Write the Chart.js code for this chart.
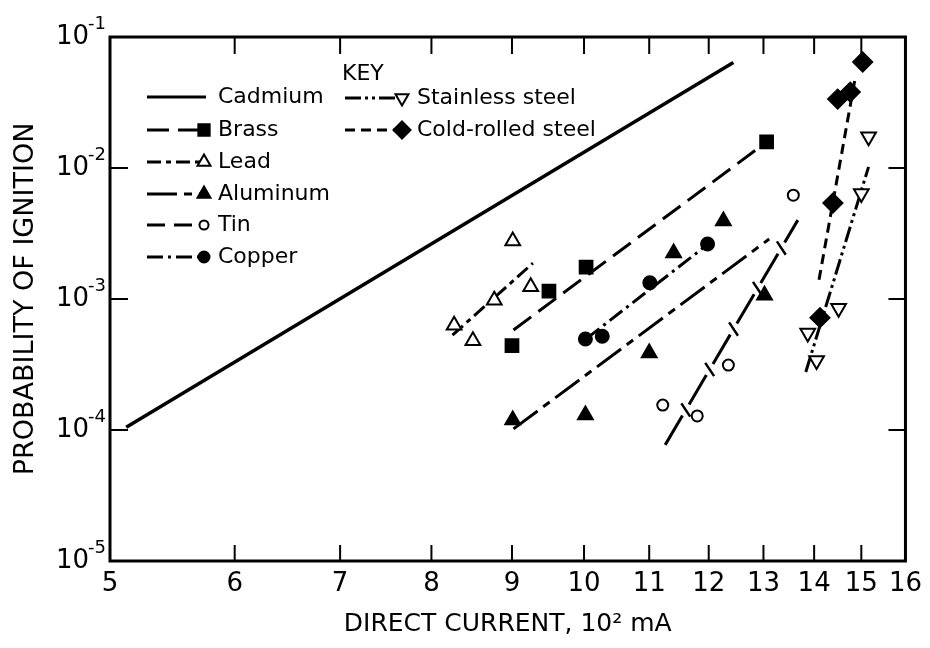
<!DOCTYPE html>
<html><head><meta charset="utf-8">
<script src="https://cdn.jsdelivr.net/npm/chart.js@4.4.1/dist/chart.umd.min.js"></script>
<style>html,body{margin:0;padding:0;background:#fff}#wrap{width:930px;height:648px}</style>
</head><body><div id="wrap"><canvas id="c" width="930" height="648"></canvas></div>
<script>
// ---------- data ----------
const xTickValues = [5, 6, 7, 8, 9, 10, 11, 12, 13, 14, 15, 16];
const yTickValues = [1e-1, 1e-2, 1e-3, 1e-4, 1e-5];
const yTickExponents = ['-1', '-2', '-3', '-4', '-5'];
const yInnerTickValues = [1e-2, 1e-3, 1e-4];

const cadmiumLineX = [5.12, 12.44];
const cadmiumLineY = [1.05e-4, 6.4e-2];

const brassX = [9.0, 9.5, 10.03, 13.06];
const brassY = [4.4e-4, 1.15e-3, 1.75e-3, 1.58e-2];
const brassLineX = [9.02, 13.06];
const brassLineY = [5.8e-4, 1.58e-2];

const leadX = [8.27, 8.5, 8.77, 9.01, 9.25];
const leadY = [6.3e-4, 4.8e-4, 9.8e-4, 2.77e-3, 1.24e-3];
const leadLineX = [8.25, 9.28];
const leadLineY = [5.3e-4, 1.88e-3];

const aluminumX = [9.01, 10.02, 11.0, 11.4, 12.26, 13.02];
const aluminumY = [1.19e-4, 1.3e-4, 3.87e-4, 2.24e-3, 3.94e-3, 1.07e-3];
const aluminumLineX = [9.02, 13.11];
const aluminumLineY = [1.02e-4, 2.87e-3];

const tinX = [11.22, 11.8, 12.35, 13.58];
const tinY = [1.55e-4, 1.28e-4, 3.13e-4, 6.2e-3];
const tinLineX = [11.26, 13.67];
const tinLineY = [7.7e-5, 4.0e-3];

const copperX = [10.02, 10.27, 11.01, 11.98];
const copperY = [4.95e-4, 5.2e-4, 1.33e-3, 2.63e-3];
const copperLineX = [10.04, 12.01];
const copperLineY = [5.0e-4, 2.67e-3];

const stainlessX = [15.16, 15.0, 14.51, 13.87, 14.05];
const stainlessY = [1.73e-2, 6.4e-3, 8.5e-4, 5.5e-4, 3.4e-4];
const stainlessLineX = [13.83, 15.16];
const stainlessLineY = [2.77e-4, 1.02e-2];

const coldX = [15.03, 14.76, 14.49, 14.39, 14.12];
const coldY = [6.44e-2, 3.8e-2, 3.36e-2, 5.4e-3, 7.2e-4];
const coldLineX = [14.10, 14.87];
const coldLineY = [1.4e-3, 4.95e-2];

const seriesNames = ['Cadmium', 'Brass', 'Lead', 'Aluminum', 'Tin', 'Copper', 'Stainless steel', 'Cold-rolled steel'];
const xTitle = 'DIRECT CURRENT, 10\u00B2 mA';
const yTitle = 'PROBABILITY OF IGNITION';
const keyTitle = 'KEY';

// ---------- styles ----------
const FONT = '"DejaVu Sans", "Liberation Sans", sans-serif';
const styles = {
  'Cadmium':          {dash: [], width: 3.5, marker: null},
  'Brass':            {dash: [22, 9], width: 3, marker: {pointStyle: 'rect', radius: 9, rotation: 0, fill: '#000'}},
  'Lead':             {dash: [14, 5, 5, 5], width: 3, marker: {pointStyle: 'triangle', radius: 8.5, rotation: 0, fill: '#fff'}},
  'Aluminum':         {dash: [30, 7, 8, 7], width: 3, marker: {pointStyle: 'triangle', radius: 8.5, rotation: 0, fill: '#000'}},
  'Tin':              {dash: [34, 13], width: 3, marker: {pointStyle: 'circle', radius: 5.5, rotation: 0, fill: '#fff'}, slashes: true},
  'Copper':           {dash: [16, 5, 3, 5], width: 3, marker: {pointStyle: 'circle', radius: 6.5, rotation: 0, fill: '#000'}},
  'Stainless steel':  {dash: [16, 4, 3, 4, 3, 4], width: 3, marker: {pointStyle: 'triangle', radius: 8.5, rotation: 180, fill: '#fff'}},
  'Cold-rolled steel':{dash: [10, 6], width: 3, marker: {pointStyle: 'rectRot', radius: 9.5, rotation: 0, fill: '#000'}}
};
const legendDash = {'Tin': [18, 9]};

function pts(xs, ys) { return xs.map((x, i) => ({x: x, y: ys[i]})); }

const pointSets = {
  'Brass': [brassX, brassY], 'Lead': [leadX, leadY], 'Aluminum': [aluminumX, aluminumY],
  'Tin': [tinX, tinY], 'Copper': [copperX, copperY], 'Stainless steel': [stainlessX, stainlessY],
  'Cold-rolled steel': [coldX, coldY]
};
const lineSets = {
  'Cadmium': [cadmiumLineX, cadmiumLineY], 'Brass': [brassLineX, brassLineY], 'Lead': [leadLineX, leadLineY],
  'Aluminum': [aluminumLineX, aluminumLineY], 'Tin': [tinLineX, tinLineY], 'Copper': [copperLineX, copperLineY],
  'Stainless steel': [stainlessLineX, stainlessLineY], 'Cold-rolled steel': [coldLineX, coldLineY]
};

const datasets = [];
seriesNames.forEach(name => {
  const st = styles[name];
  if (pointSets[name]) {
    const m = st.marker;
    datasets.push({
      label: name, data: pts(pointSets[name][0], pointSets[name][1]), showLine: false,
      pointStyle: m.pointStyle, pointRadius: m.radius, pointHoverRadius: m.radius, pointRotation: m.rotation,
      pointBackgroundColor: m.fill, pointBorderColor: '#000', pointBorderWidth: 2, order: 0
    });
  }
  datasets.push({
    label: name + ' fit', data: pts(lineSets[name][0], lineSets[name][1]), showLine: true,
    borderColor: '#000', borderWidth: st.width, borderDash: st.dash, pointRadius: 0, pointHoverRadius: 0,
    fill: false, tension: 0, order: 1
  });
});

// ---------- plugins ----------
const framePlugin = {
  id: 'frame',
  afterDatasetsDraw(chart) {
    const ctx = chart.ctx, a = chart.chartArea;
    const xs = chart.scales.x, ys = chart.scales.y;
    ctx.save();
    // slash marks across the gaps of the tin line (drawn from the fit line's scale positions)
    seriesNames.forEach(name => {
      const st = styles[name];
      if (!st.slashes) return;
      const L = lineSets[name];
      const x1 = xs.getPixelForValue(L[0][0]), y1 = ys.getPixelForValue(L[1][0]);
      const x2 = xs.getPixelForValue(L[0][1]), y2 = ys.getPixelForValue(L[1][1]);
      const len = Math.hypot(x2 - x1, y2 - y1);
      const ux = (x2 - x1) / len, uy = (y2 - y1) / len;
      const period = st.dash[0] + st.dash[1];
      ctx.strokeStyle = '#000';
      ctx.lineWidth = 2.5;
      ctx.beginPath();
      for (let d = st.dash[0] + st.dash[1] / 2; d < len; d += period) {
        const cx = x1 + ux * d, cy = y1 + uy * d;
        const ang = Math.atan2(uy, ux) + Math.PI / 2 + 0.45;
        const h = 8;
        ctx.moveTo(cx - Math.cos(ang) * h, cy - Math.sin(ang) * h);
        ctx.lineTo(cx + Math.cos(ang) * h, cy + Math.sin(ang) * h);
      }
      ctx.stroke();
    });
    ctx.strokeStyle = '#000';
    ctx.lineWidth = 3;
    ctx.lineCap = 'square';
    ctx.strokeRect(a.left, a.top, a.right - a.left, a.bottom - a.top);
    ctx.lineWidth = 2;
    ctx.lineCap = 'butt';
    ctx.beginPath();
    xTickValues.slice(1, -1).forEach(v => {
      const px = xs.getPixelForValue(v);
      ctx.moveTo(px, a.bottom); ctx.lineTo(px, a.bottom - 16);
      ctx.moveTo(px, a.top); ctx.lineTo(px, a.top + 17);
    });
    yInnerTickValues.forEach(v => {
      const py = ys.getPixelForValue(v);
      ctx.moveTo(a.left, py); ctx.lineTo(a.left + 18, py);
      ctx.moveTo(a.right, py); ctx.lineTo(a.right - 17, py);
    });
    ctx.stroke();
    // y tick labels: 10 with raised exponent
    ctx.fillStyle = '#000';
    ctx.textBaseline = 'middle';
    yTickValues.forEach((v, i) => {
      const py = ys.getPixelForValue(v);
      ctx.font = '26px ' + FONT;
      ctx.textAlign = 'right';
      ctx.fillText('10', 89, py);
      ctx.font = '18px ' + FONT;
      ctx.textAlign = 'left';
      ctx.fillText(yTickExponents[i], 88, py - 13);
    });
    ctx.restore();
  }
};

const keyPlugin = {
  id: 'key',
  afterDraw(chart) {
    const ctx = chart.ctx;
    ctx.save();
    ctx.fillStyle = '#000';
    ctx.font = '22px ' + FONT;
    ctx.textBaseline = 'middle';
    ctx.textAlign = 'left';
    ctx.fillText(keyTitle, 342, 74);
    const col1 = {x0: 147, mx: 204, tx: 218};
    const col2 = {x0: 345, mx: 402, tx: 417};
    const rows1 = [97, 130, 162, 194, 225, 257];
    const rows2 = [98, 130];
    seriesNames.forEach((name, i) => {
      const col = i < 6 ? col1 : col2;
      const y = i < 6 ? rows1[i] : rows2[i - 6];
      const st = styles[name];
      ctx.strokeStyle = '#000';
      ctx.lineWidth = 3;
      ctx.setLineDash(legendDash[name] || st.dash);
      ctx.beginPath();
      ctx.moveTo(col.x0, y);
      ctx.lineTo(st.marker ? col.mx : col.mx + 2, y);
      ctx.stroke();
      ctx.setLineDash([]);
      if (st.marker) {
        const m = st.marker;
        ctx.fillStyle = m.fill;
        ctx.lineWidth = 2;
        Chart.helpers.drawPoint(ctx, {pointStyle: m.pointStyle, radius: m.radius - 1, rotation: m.rotation, borderWidth: 2}, col.mx, y);
      }
      ctx.fillStyle = '#000';
      ctx.font = '22px ' + FONT;
      ctx.fillText(name, col.tx, y);
    });
    ctx.restore();
  }
};

new Chart(document.getElementById('c'), {
  type: 'scatter',
  data: {datasets: datasets},
  options: {
    responsive: false,
    animation: false,
    events: [],
    layout: {padding: {top: 37, right: 20, bottom: 0, left: 0}},
    plugins: {legend: {display: false}, tooltip: {enabled: false}, title: {display: false}},
    scales: {
      x: {
        type: 'logarithmic', min: 5, max: 16, position: 'bottom',
        grid: {display: false, drawTicks: false}, border: {display: false},
        afterBuildTicks: s => { s.ticks = xTickValues.map(v => ({value: v})); },
        afterFit: s => { s.height = 87; },
        ticks: {autoSkip: false, maxRotation: 0, minRotation: 0, padding: 8, color: '#000',
                font: {family: FONT, size: 26}, callback: v => String(v)},
        title: {display: true, text: xTitle, color: '#000', font: {family: FONT, size: 25}, padding: {top: 0, bottom: 9}}
      },
      y: {
        type: 'logarithmic', min: 1e-5, max: 1e-1, position: 'left',
        grid: {display: false, drawTicks: false}, border: {display: false},
        afterBuildTicks: s => { s.ticks = yTickValues.map(v => ({value: v})); },
        afterFit: s => { s.width = 110; },
        ticks: {display: false},
        title: {display: true, text: yTitle, color: '#000', font: {family: FONT, size: 27}, padding: {top: 10, bottom: 0}}
      }
    }
  },
  plugins: [framePlugin, keyPlugin]
});
</script>
</body></html>
